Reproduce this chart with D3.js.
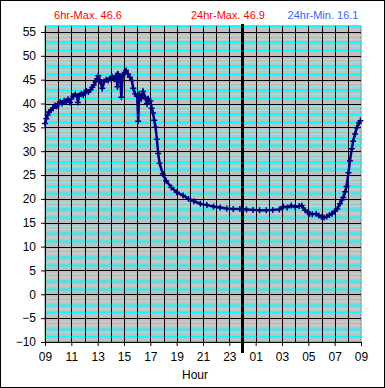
<!DOCTYPE html>
<html>
<head>
<meta charset="utf-8">
<script src="https://cdn.jsdelivr.net/npm/d3@7"></script>
<style>
  body { margin: 0; background: #fff; }
  text { font-family: Arial, "Liberation Sans", sans-serif; }
</style>
</head>
<body>
<script>
(function () {

    // hours since 09:00
    const hours = [
        0.00, 0.10, 0.20, 0.30, 0.45, 0.60, 0.75, 0.90, 1.00, 1.15, 1.30, 1.45, 1.60, 1.75, 1.90,
        2.00, 2.15, 2.30, 2.45, 2.50, 2.60, 2.75, 2.90, 3.00, 3.15, 3.30, 3.45, 3.60, 3.70, 3.85,
        3.95, 4.05, 4.15, 4.25, 4.35, 4.50, 4.65, 4.80, 4.95, 5.10, 5.25, 5.40, 5.50, 5.55, 5.70,
        5.80, 5.90, 6.05, 6.15, 6.30, 6.45, 6.60, 6.70, 6.85, 7.00, 7.08, 7.15, 7.30, 7.45, 7.60,
        7.75, 7.85, 8.00, 8.10, 8.20, 8.30, 8.40, 8.50, 8.60, 8.70, 8.95, 9.20, 9.60, 10.0, 10.5,
        10.9, 11.3, 11.8, 12.3, 12.8, 13.3, 13.8, 14.3, 14.8, 15.3, 15.8, 16.3, 16.8, 17.3, 17.8,
        18.1, 18.4, 18.7, 19.0, 19.3, 19.5, 19.75, 19.95, 20.1, 20.3, 20.6, 20.8, 21.0, 21.2, 21.4,
        21.6, 21.8, 22.0, 22.2, 22.4, 22.55, 22.65, 22.8, 22.9, 23.05, 23.16, 23.3, 23.4, 23.55,
        23.67, 23.85, 23.95
    ];
    const temps = [
        35.8, 36.8, 37.6, 38.2, 38.6, 39.0, 39.6, 39.4, 39.9, 40.3, 40.0, 40.6, 40.4, 40.9, 40.2,
        41.0, 41.6, 41.9, 41.5, 40.2, 41.7, 42.0, 41.8, 42.3, 42.6, 42.4, 42.9, 43.4, 43.9, 44.6,
        45.2, 45.8, 45.0, 44.2, 43.2, 44.6, 45.0, 44.8, 45.3, 45.6, 45.1, 45.8, 43.5, 46.2, 45.6,
        41.3, 46.0, 46.5, 46.9, 46.2, 45.5, 44.8, 43.2, 42.0, 41.5, 36.3, 42.0, 41.0, 42.5, 41.3,
        40.0, 41.0, 40.5, 39.0, 38.0, 36.5, 35.0, 32.5, 29.5, 27.5, 25.2, 23.8, 22.4, 21.4, 20.7,
        20.0, 19.5, 19.0, 18.7, 18.4, 18.2, 18.0, 17.9, 17.9, 17.8, 17.7, 17.6, 17.6, 17.7, 17.8,
        18.4, 18.2, 18.6, 18.3, 18.5, 18.6, 17.6, 17.2, 16.9, 16.8, 16.9, 16.5, 16.2, 16.1, 16.3,
        16.6, 16.9, 17.4, 17.9, 19.0, 19.8, 20.3, 21.5, 22.6, 25.5, 28.0, 30.5, 32.1, 33.6,
        34.9, 35.9, 36.4
    ];

    const xTickValues = [0, 2, 4, 6, 8, 10, 12, 14, 16, 18, 20, 22, 24];
    const xTickLabels = ['09', '11', '13', '15', '17', '19', '21', '23', '01', '03', '05', '07', '09'];
    const yTickValues = [-10, -5, 0, 5, 10, 15, 20, 25, 30, 35, 40, 45, 50, 55];

    const sixHrMax = 46.6, dayMax = 46.9, dayMin = 16.1;

    const svg = d3.select('body')
        .append('svg')
        .attr('width', 385)
        .attr('height', 388);

    // outer frame
    svg.append('rect')
        .attr('x', 0.5).attr('y', 0.5)
        .attr('width', 384).attr('height', 387)
        .attr('fill', '#fff')
        .attr('stroke', '#000');

    const scaleX = d3.scaleLinear().domain([0, 24]).range([45, 361]);
    const scaleY = d3.scaleLinear().domain([-10, 56.25]).range([342, 26]);

    // plot background
    svg.append('rect')
        .attr('x', 45).attr('y', 26)
        .attr('width', 316).attr('height', 316)
        .attr('fill', '#c0c0c0')
        .attr('stroke', '#808080');

    // minor lines
    const minor = [];
    yTickValues.forEach(function (v) {
        [[1.2, true], [2.0, false], [2.8, true], [3.6, false], [4.4, false]].forEach(function (o) {
            if (v + o[0] < 56.25) minor.push({v: v + o[0], bright: o[1]});
        });
    });
    svg.append('g').selectAll('line')
        .data(minor)
        .join('line')
        .attr('x1', 45).attr('x2', 361)
        .attr('y1', d => Math.round(scaleY(d.v)) + 0.5)
        .attr('y2', d => Math.round(scaleY(d.v)) + 0.5)
        .attr('stroke', d => d.bright ? '#00ffff' : '#9fe3e3')
        .attr('stroke-width', d => d.bright ? 2 : 1);

    // major gridlines
    svg.append('g').selectAll('line')
        .data(yTickValues)
        .join('line')
        .attr('x1', 45).attr('x2', 361)
        .attr('y1', d => Math.round(scaleY(d)) + 0.5)
        .attr('y2', d => Math.round(scaleY(d)) + 0.5)
        .attr('stroke', '#000');

    svg.append('g').selectAll('line')
        .data(d3.range(1, 24))
        .join('line')
        .attr('y1', 26).attr('y2', 342)
        .attr('x1', d => Math.round(scaleX(d)) + 0.5)
        .attr('x2', d => Math.round(scaleX(d)) + 0.5)
        .attr('stroke', '#000');

    // axes
    const xAxis = d3.axisBottom(scaleX)
        .tickValues(xTickValues)
        .tickFormat((d, i) => xTickLabels[i])
        .tickSize(4)
        .tickPadding(6);
    const yAxis = d3.axisLeft(scaleY)
        .tickValues(yTickValues)
        .tickSize(4)
        .tickPadding(5);

    const gx = svg.append('g')
        .attr('transform', 'translate(0, 342)')
        .call(xAxis);
    const gy = svg.append('g')
        .attr('transform', 'translate(45, 0)')
        .call(yAxis);

    [gx, gy].forEach(function (g) {
        g.select('.domain').remove();
        g.selectAll('text').attr('font-size', 12).attr('fill', '#000')
            .style('font-family', 'Arial, "Liberation Sans", sans-serif');
        g.selectAll('line').attr('stroke', '#000');
    });
    svg.append('line').attr('x1', 45.5).attr('x2', 45.5).attr('y1', 26).attr('y2', 342).attr('stroke', '#000');
    svg.append('line').attr('x1', 45).attr('x2', 361).attr('y1', 342.5).attr('y2', 342.5).attr('stroke', '#000');

    // midnight
    svg.append('line')
        .attr('x1', scaleX(15)).attr('x2', scaleX(15))
        .attr('y1', 24).attr('y2', 353)
        .attr('stroke', '#000')
        .attr('stroke-width', 3);

    // series
    const pts = hours.map((h, i) => [h, temps[i]]);
    const line = d3.line().x(d => scaleX(d[0])).y(d => scaleY(d[1]));
    svg.append('path')
        .datum(pts)
        .attr('d', line)
        .attr('fill', 'none')
        .attr('stroke', '#000080')
        .attr('stroke-width', 2.5);
    svg.append('g').selectAll('path')
        .data(pts)
        .join('path')
        .attr('d', d => {
            const x = scaleX(d[0]), y = scaleY(d[1]);
            return 'M' + (x - 3) + ',' + y + 'H' + (x + 3) + 'M' + x + ',' + (y - 3) + 'V' + (y + 3);
        })
        .attr('stroke', '#000080')
        .attr('stroke-width', 1.5);

    // labels
    svg.append('text').attr('x', 195).attr('y', 379)
        .attr('text-anchor', 'middle').attr('font-size', 12).text('Hour');

    svg.append('text').attr('x', 88).attr('y', 19)
        .attr('text-anchor', 'middle').attr('font-size', 11).attr('fill', '#ff0000')
        .text('6hr-Max. ' + sixHrMax.toFixed(1));
    svg.append('text').attr('x', 228).attr('y', 19)
        .attr('text-anchor', 'middle').attr('font-size', 11).attr('fill', '#ff0000')
        .text('24hr-Max. ' + dayMax.toFixed(1));
    svg.append('text').attr('x', 323).attr('y', 19)
        .attr('text-anchor', 'middle').attr('font-size', 11).attr('fill', '#3366ff')
        .text('24hr-Min. ' + dayMin.toFixed(1));

})();
</script>
</body>
</html>
